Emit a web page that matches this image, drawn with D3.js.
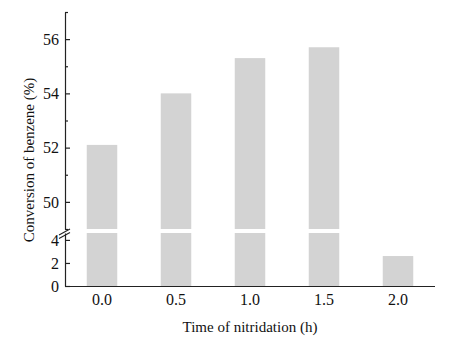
<!DOCTYPE html>
<html><head><meta charset="utf-8">
<script src="https://cdn.jsdelivr.net/npm/d3@7"></script>
<style>body{margin:0;background:#fff}svg{display:block}text{font-family:"Liberation Serif","Times New Roman",serif;fill:#111}</style>
</head><body>
<svg id="c" width="456" height="342"></svg>
<script>
const categories = ["0.0","0.5","1.0","1.5","2.0"];
const values = [52.1, 54.0, 55.3, 55.7, 2.6];
const upperTicks = [50, 52, 54, 56];
const upperMinor = [49, 51, 53, 55, 57];
const lowerTicks = [0, 2, 4];
const upperDomain = [49, 57];
const lowerDomain = [0, 4.6];

const svg = d3.select("#c");
const x0 = 65, x1 = 435;
const x = d3.scaleBand().domain(categories).range([x0, x1]).paddingInner(0.588).paddingOuter(0.294);
const yU = d3.scaleLinear().domain(upperDomain).range([229, 12]);
const yL = d3.scaleLinear().domain(lowerDomain).range([286, 233]);

// bars
categories.forEach((c, i) => {
  const v = values[i];
  if (v > lowerDomain[1]) {
    svg.append("rect").attr("x", x(c)).attr("width", x.bandwidth())
      .attr("y", yU(v)).attr("height", yU(upperDomain[0]) - yU(v)).attr("fill", "#d3d3d3");
    svg.append("rect").attr("x", x(c)).attr("width", x.bandwidth())
      .attr("y", yL(lowerDomain[1])).attr("height", yL(0) - yL(lowerDomain[1])).attr("fill", "#d3d3d3");
  } else {
    svg.append("rect").attr("x", x(c)).attr("width", x.bandwidth())
      .attr("y", yL(v)).attr("height", yL(0) - yL(v)).attr("fill", "#d3d3d3");
  }
});

const axCol = "#222";
// upper axis
const gU = svg.append("g").attr("transform", `translate(${x0},0)`)
  .call(d3.axisLeft(yU).tickValues(upperTicks).tickSizeInner(-5).tickSizeOuter(0).tickPadding(6).tickFormat(d3.format("d")));
const gUm = svg.append("g").attr("transform", `translate(${x0},0)`)
  .call(d3.axisLeft(yU).tickValues(upperMinor).tickSizeInner(-3).tickSizeOuter(0).tickFormat(""));
gUm.select(".domain").remove();
// lower axis
const gL = svg.append("g").attr("transform", `translate(${x0},0)`)
  .call(d3.axisLeft(yL).tickValues(lowerTicks).tickSizeInner(-5).tickSizeOuter(0).tickPadding(6).tickFormat(d3.format("d")));
// x axis
const gX = svg.append("g").attr("transform", `translate(0,${yL(0)})`)
  .call(d3.axisBottom(x).tickSize(0).tickSizeOuter(0).tickPadding(8));
gX.select(".domain").attr("d", `M${x0},0.5H${x1}`);

[gU, gUm, gL, gX].forEach(g => {
  g.selectAll("path,line").attr("stroke", axCol).attr("stroke-width", 1.2);
  g.selectAll("text").attr("font-size", 16).attr("font-family", "Liberation Serif, serif").attr("fill", "#111");
});

// break marks
const yb1 = yU(upperDomain[0]), yb2 = yL(lowerDomain[1]);
[0, 3.5].forEach(d => {
  svg.append("line").attr("x1", x0 - 6).attr("y1", yb1 + 6 + d).attr("x2", x0 + 5).attr("y2", yb1 + d)
    .attr("stroke", axCol).attr("stroke-width", 1.1);
});

// titles
svg.append("text").attr("x", (x0 + x1) / 2).attr("y", 332).attr("text-anchor", "middle")
  .attr("font-size", 15).text("Time of nitridation (h)");
svg.append("text").attr("transform", "translate(34,160) rotate(-90)").attr("text-anchor", "middle")
  .attr("font-size", 15).text("Conversion of benzene (%)");
</script>
</body></html>
